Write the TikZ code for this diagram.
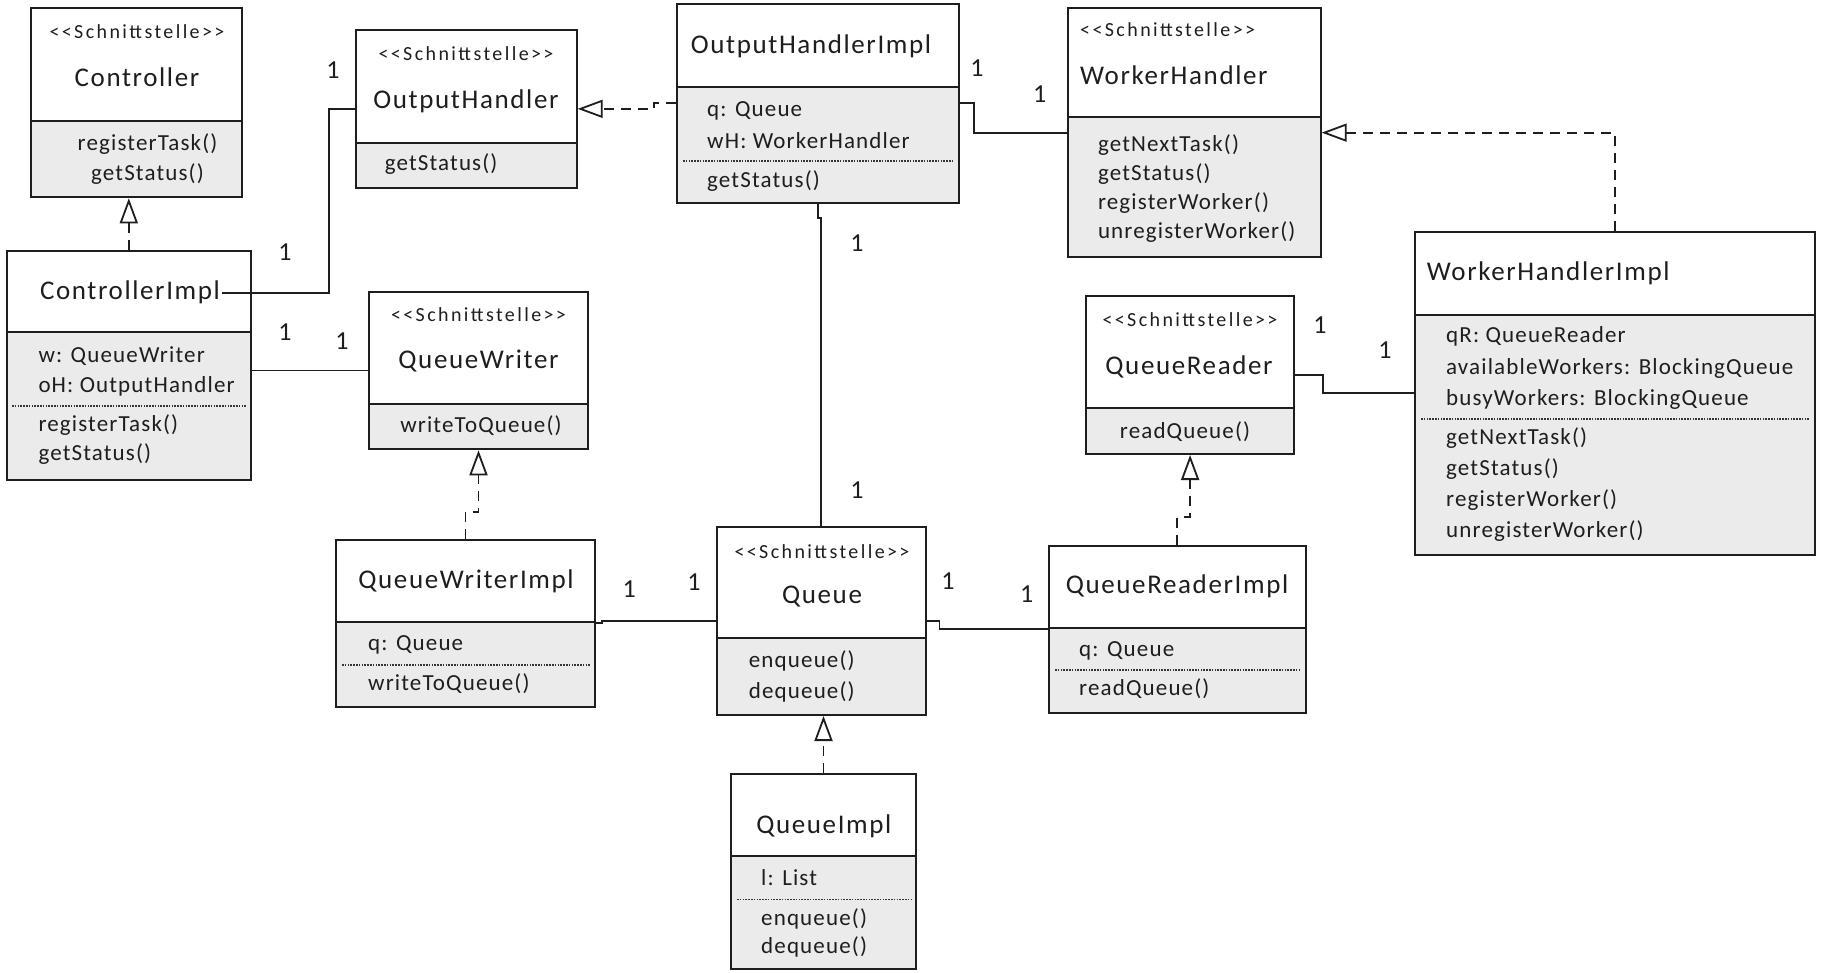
\documentclass[tikz,border=0pt]{standalone}
\usepackage{fontspec}
\setmainfont{Carlito}
\newfontfamily\namefont[LetterSpace=6]{Carlito}
\newfontfamily\memfont[LetterSpace=5]{Carlito}
\newfontfamily\stfont[LetterSpace=12]{Carlito}
\usetikzlibrary{arrows.meta,fit,calc}
\definecolor{ink}{HTML}{1E1E1E}
\definecolor{compgray}{HTML}{EBEBEB}
\tikzset{
  box/.style={draw=ink, line width=2pt, inner sep=0pt},
  sepline/.style={draw=ink, line width=2pt},
  dotsep/.style={draw=ink!90, line width=1.2pt, dash pattern=on 1.5pt off 1.3pt},
  nm/.style={font=\namefont\fontsize{27}{30}\selectfont, text=ink, inner sep=0pt, text height=19pt, text depth=6pt},
  mem/.style={font=\memfont\fontsize{23}{26}\selectfont, text=ink, inner sep=0pt, anchor=west, text height=16pt, text depth=5pt},
  st/.style={font=\stfont\fontsize{20}{24}\selectfont, text=ink, inner sep=0pt, text height=14pt, text depth=4pt},
  mult/.style={font=\fontsize{26}{30}\selectfont, text=ink, inner sep=0pt},
  assoc/.style={draw=ink, line width=1.9pt},
  realize/.style={draw=ink, line width=1.9pt, dash pattern=on 10pt off 7pt,
    -{Triangle[open, length=25pt, width=18pt, line width=1.8pt]}}
}
\newcommand{\umlbox}[6]{%
  \fill[compgray] (#2,#6) rectangle (#4,#5);
  \coordinate (#1-nw) at (#2,#3);
  \coordinate (#1-se) at (#4,#5);
  \node[box, fit=(#1-nw)(#1-se)] (#1) {};
  \draw[sepline] (#2,#6) -- (#4,#6);
}
\begin{document}
\begin{tikzpicture}[x=1pt,y=-1pt]
\useasboundingbox[fill=white] (0,0) rectangle (1825,972);

% ---------------- Controller
\umlbox{ctrl}{31}{8.3}{242}{197.3}{120.7}
\node[st] (ctrl-st) at (137,33.3) {{<}{<}Schnittstelle{>}{>}};
\node[nm] (ctrl-name) at (137,80) {Controller};
\node[mem, anchor=center] (ctrl-m1) at (147.5,145) {registerTask()};
\node[mem, anchor=center] (ctrl-m2) at (147.5,175) {getStatus()};

% ---------------- OutputHandler
\umlbox{oh}{356}{30}{576.7}{187.7}{142.7}
\node[st] (oh-st) at (466,55) {{<}{<}Schnittstelle{>}{>}};
\node[nm] (oh-name) at (466,101.7) {OutputHandler};
\node[mem] (oh-m1) at (384.6,165) {getStatus()};

% ---------------- ControllerImpl
\umlbox{cimpl}{6.9}{250.7}{250.7}{480}{332.3}
\node[nm] (cimpl-name) at (130,293) {ControllerImpl};
\node[mem] (cimpl-a1) at (38.3,356.7) {w: QueueWriter};
\node[mem] (cimpl-a2) at (38.3,387.3) {oH: OutputHandler};
\draw[dotsep] (12,406) -- (246,406);
\node[mem] (cimpl-m1) at (38.3,426) {registerTask()};
\node[mem] (cimpl-m2) at (38.3,455) {getStatus()};

% ---------------- QueueWriter
\umlbox{qw}{369.3}{291.7}{587.7}{449.3}{404}
\node[st] (qw-st) at (478.5,316.7) {{<}{<}Schnittstelle{>}{>}};
\node[nm] (qw-name) at (478.5,361.7) {QueueWriter};
\node[mem, anchor=center] (qw-m1) at (481,426.7) {writeToQueue()};

% ---------------- QueueWriterImpl
\umlbox{qwimpl}{336}{540}{595}{706.7}{621.7}
\node[nm] (qwimpl-name) at (466,581.7) {QueueWriterImpl};
\node[mem] (qwimpl-a1) at (368,645) {q: Queue};
\draw[dotsep] (342,665) -- (590,665);
\node[mem] (qwimpl-m1) at (368,685) {writeToQueue()};

% ---------------- OutputHandlerImpl
\umlbox{ohimpl}{677.2}{4}{959.4}{202.7}{87.3}
\node[nm] (ohimpl-name) at (811,46.7) {OutputHandlerImpl};
\node[mem] (ohimpl-a1) at (707,111) {q: Queue};
\node[mem] (ohimpl-a2) at (707,142.7) {wH: WorkerHandler};
\draw[dotsep] (683,161) -- (953,161);
\node[mem] (ohimpl-m1) at (707,181.7) {getStatus()};

% ---------------- WorkerHandler
\umlbox{wh}{1067.9}{8.3}{1320.7}{257}{117}
\node[st, anchor=west] (wh-st) at (1080,31.7) {{<}{<}Schnittstelle{>}{>}};
\node[nm, anchor=west] (wh-name) at (1080,78.3) {WorkerHandler};
\node[mem] (wh-m1) at (1097.8,145.7) {getNextTask()};
\node[mem] (wh-m2) at (1097.8,175) {getStatus()};
\node[mem] (wh-m3) at (1097.8,204.3) {registerWorker()};
\node[mem] (wh-m4) at (1097.8,233) {unregisterWorker()};

% ---------------- WorkerHandlerImpl
\umlbox{whimpl}{1415}{231.5}{1815}{555}{314.6}
\node[nm, anchor=west] (whimpl-name) at (1426.7,273.6) {WorkerHandlerImpl};
\node[mem] (whimpl-a1) at (1446,336.8) {qR: QueueReader};
\node[mem] (whimpl-a2) at (1446,369.3) {availableWorkers: BlockingQueue};
\node[mem] (whimpl-a3) at (1446,400) {busyWorkers: BlockingQueue};
\draw[dotsep] (1421,419) -- (1810,419);
\node[mem] (whimpl-m1) at (1446,439.3) {getNextTask()};
\node[mem] (whimpl-m2) at (1446,470) {getStatus()};
\node[mem] (whimpl-m3) at (1446,501.3) {registerWorker()};
\node[mem] (whimpl-m4) at (1446,532) {unregisterWorker()};

% ---------------- QueueReader
\umlbox{qr}{1086}{296}{1294.2}{454}{408.3}
\node[st] (qr-st) at (1190,321.7) {{<}{<}Schnittstelle{>}{>}};
\node[nm] (qr-name) at (1189,368.3) {QueueReader};
\node[mem, anchor=center] (qr-m1) at (1185,432.7) {readQueue()};

% ---------------- QueueReaderImpl
\umlbox{qrimpl}{1049}{545.7}{1305.7}{712.7}{628.3}
\node[nm] (qrimpl-name) at (1177,586.7) {QueueReaderImpl};
\node[mem] (qrimpl-a1) at (1079,650.7) {q: Queue};
\draw[dotsep] (1055,670) -- (1300,670);
\node[mem] (qrimpl-m1) at (1079,690) {readQueue()};

% ---------------- Queue
\umlbox{q}{717}{526.5}{925.5}{715}{638}
\node[st] (q-st) at (822,553.3) {{<}{<}Schnittstelle{>}{>}};
\node[nm] (q-name) at (822,596.7) {Queue};
\node[mem] (q-m1) at (748.7,661.7) {enqueue()};
\node[mem] (q-m2) at (748.7,693.3) {dequeue()};

% ---------------- QueueImpl
\umlbox{qimpl}{731}{774}{916}{969}{856}
\node[nm] (qimpl-name) at (823.8,826.7) {QueueImpl};
\node[mem] (qimpl-a1) at (761,880) {l: List};
\draw[dotsep] (737,899.3) -- (911,899.3);
\node[mem] (qimpl-m1) at (761,920) {enqueue()};
\node[mem] (qimpl-m2) at (761,948.3) {dequeue()};

% ---------------- realizations
\draw[realize] (cimpl.north) -- (cimpl.north |- ctrl.south);
\draw[realize] (qwimpl.north) -- ++(0,-27) -| (qw.south);
\draw[realize] (ohimpl.west) -- ++(-22,0) |- (oh.east);
\draw[realize] (whimpl.north) |- (wh.east);
\draw[realize] (qrimpl.north) -- ++(0,-27.4) -| (qr.south);
\draw[realize] (qimpl.north) -- (qimpl.north |- q.south);

% ---------------- associations
\draw[assoc] ([xshift=2pt]cimpl-name.east) -| ($(oh.west)+(-26,0)$) -- (oh.west);
\draw[assoc] (qw.west -| cimpl.east) -- (qw.west);
\draw[assoc] (ohimpl.east) -- ++(13.4,0) |- (wh.west);
\draw[assoc] (ohimpl.south) -- ++(0,14) -| (q.north);
\draw[assoc] (qwimpl.east) -- ++(6,0) |- (q.west);
\draw[assoc] (q.east) -- ++(13,0) |- (qrimpl.west);
\draw[assoc] (qr.east) -- ++(27.5,0) |- (whimpl.west);

% ---------------- multiplicities
\node[mult] (m-b1) at (285,251.7) {1};
\node[mult] (m-b2) at (333,70) {1};
\node[mult] (m-c1) at (285,331.7) {1};
\node[mult] (m-c2) at (342,341.5) {1};
\node[mult] (m-f1) at (977,68.3) {1};
\node[mult] (m-f2) at (1039.7,94.3) {1};
\node[mult] (m-h1) at (857,243.3) {1};
\node[mult] (m-h2) at (857,490) {1};
\node[mult] (m-i1) at (629.3,589) {1};
\node[mult] (m-i2) at (694,581.7) {1};
\node[mult] (m-j1) at (948,581) {1};
\node[mult] (m-j2) at (1026.7,594) {1};
\node[mult] (m-l1) at (1320,325.3) {1};
\node[mult] (m-l2) at (1385,350.2) {1};
\end{tikzpicture}
\end{document}
